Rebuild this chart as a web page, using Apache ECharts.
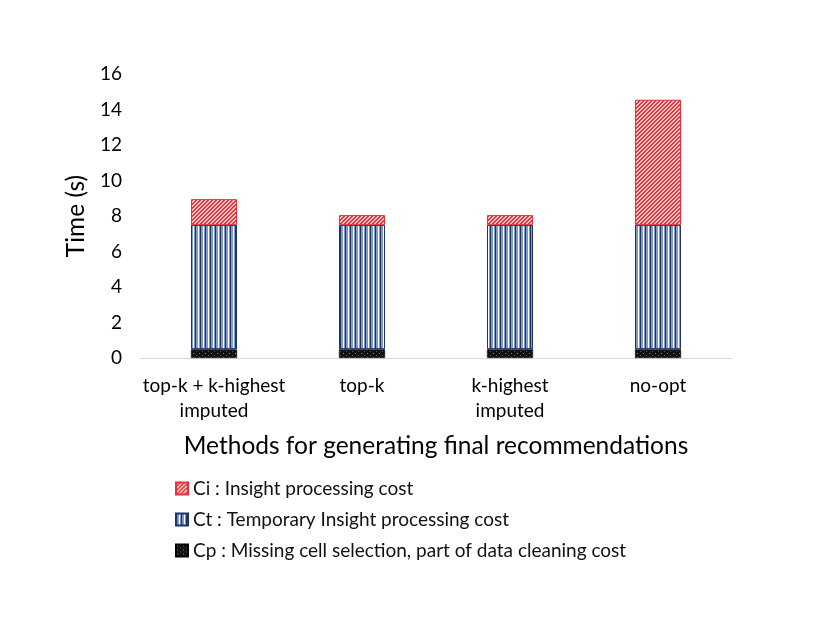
<!DOCTYPE html>
<html>
<head>
<meta charset="utf-8">
<script src="https://cdn.jsdelivr.net/npm/echarts@6/dist/echarts.min.js"></script>
<style>
  html, body { margin: 0; padding: 0; background: #fff; }
  #main { width: 830px; height: 642px; }
</style>
</head>
<body>
<div id="main"></div>
<script>
var methods = ['top-k + k-highest\nimputed', 'top-k', 'k-highest\nimputed', 'no-opt'];
var cpValues = [0.5, 0.5, 0.5, 0.5];
var ctValues = [7.0, 7.0, 7.0, 7.0];
var ciValues = [1.45, 0.55, 0.55, 7.05];
var seriesNames = ['Ci : Insight processing cost', 'Ct : Temporary Insight processing cost', 'Cp : Missing cell selection, part of data cleaning cost'];

// small canvas patterns for the hatched fills
function makePattern(w, h, draw) {
  var c = document.createElement('canvas');
  c.width = w;
  c.height = h;
  draw(c.getContext('2d'));
  return { image: c, repeat: 'repeat' };
}

var redHatch = makePattern(4, 4, function (ctx) {
  ctx.fillStyle = '#f7c6c6';
  ctx.fillRect(0, 0, 4, 4);
  ctx.fillStyle = '#e8323a';
  for (var i = 0; i < 4; i++) {
    ctx.fillRect(3 - i, i, 1, 1);
    ctx.fillRect((4 - i) % 4, i, 1, 1);
  }
  ctx.fillStyle = '#ffffff';
  ctx.fillRect(1, 0, 1, 1);
  ctx.fillRect(3, 2, 1, 1);
});

var blueStripes = makePattern(5, 2, function (ctx) {
  ctx.fillStyle = '#8299c0';
  ctx.fillRect(0, 0, 5, 2);
  ctx.fillStyle = '#1d3468';
  ctx.fillRect(0, 0, 1, 2);
  ctx.fillStyle = '#ffffff';
  ctx.fillRect(3, 0, 1, 2);
});

var blackDots = makePattern(6, 4, function (ctx) {
  ctx.fillStyle = '#111111';
  ctx.fillRect(0, 0, 6, 4);
  ctx.fillStyle = '#8a8a8a';
  ctx.fillRect(1, 1, 1, 1);
  ctx.fillStyle = '#555555';
  ctx.fillRect(4, 3, 1, 1);
});

var chart = echarts.init(document.getElementById('main'), null, { renderer: 'canvas' });

var font = 'Lato, "Open Sans", sans-serif';

var option = {
  backgroundColor: '#ffffff',
  animation: false,
  textStyle: { fontFamily: font, color: '#000' },
  grid: { left: 140, right: 98, top: 74, bottom: 284 },
  legend: {
    orient: 'vertical',
    left: 170,
    top: 474,
    itemWidth: 12,
    itemHeight: 12,
    itemGap: 12,
    icon: 'rect',
    data: seriesNames,
    textStyle: { fontSize: 19, color: '#111', fontFamily: font }
  },
  xAxis: {
    type: 'category',
    data: methods,
    name: 'Methods for generating final recommendations',
    nameLocation: 'middle',
    nameGap: 76,
    nameTextStyle: { fontSize: 24.5, color: '#000', fontFamily: font },
    axisLine: { lineStyle: { color: '#d9d9d9', width: 1 } },
    axisTick: { show: false },
    axisLabel: { fontSize: 19, color: '#000', lineHeight: 25, margin: 15, interval: 0 }
  },
  yAxis: {
    type: 'value',
    min: 0,
    max: 16,
    interval: 2,
    name: 'Time (s)',
    nameLocation: 'middle',
    nameGap: 44,
    nameTextStyle: { fontSize: 24.5, color: '#000', fontFamily: font },
    splitLine: { show: false },
    axisLine: { show: false },
    axisTick: { show: false },
    axisLabel: { fontSize: 19, color: '#000', margin: 18 }
  },
  series: [
    {
      name: seriesNames[2],
      type: 'bar',
      stack: 'cost',
      barWidth: 46,
      data: cpValues,
      itemStyle: { color: blackDots, borderColor: '#000', borderWidth: 0.5 }
    },
    {
      name: seriesNames[1],
      type: 'bar',
      stack: 'cost',
      barWidth: 46,
      data: ctValues,
      itemStyle: { color: blueStripes, borderColor: '#1d3468', borderWidth: 1 }
    },
    {
      name: seriesNames[0],
      type: 'bar',
      stack: 'cost',
      barWidth: 46,
      data: ciValues,
      itemStyle: { color: redHatch, borderColor: '#e0343a', borderWidth: 1 }
    }
  ]
};

chart.setOption(option);
</script>
</body>
</html>
